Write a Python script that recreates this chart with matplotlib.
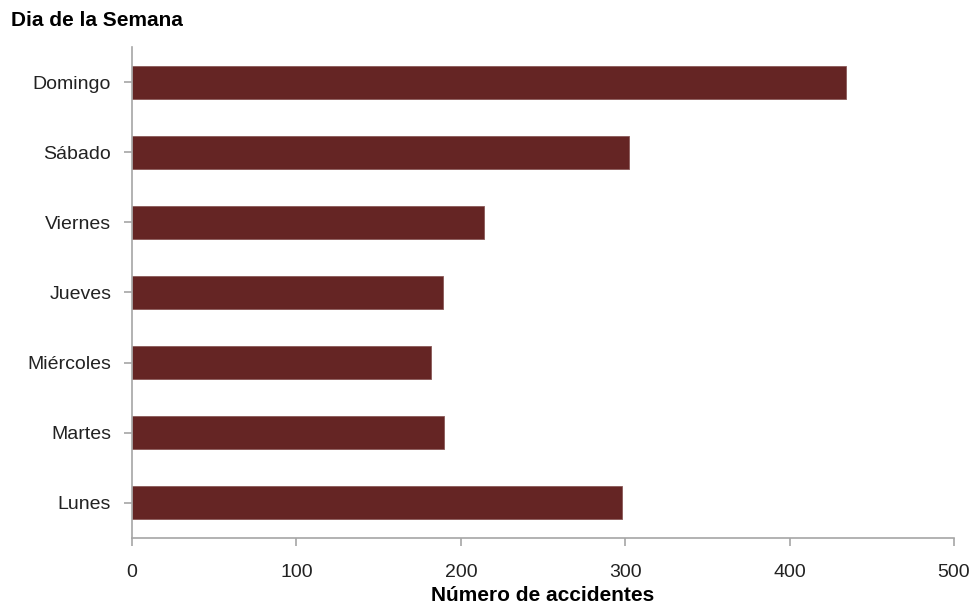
import numpy as np
import matplotlib.pyplot as plt

dias = ["Lunes", "Martes", "Miércoles", "Jueves", "Viernes", "Sábado", "Domingo"]
accidentes = [298, 190, 182, 189, 214, 302, 434]
ticks_x = [0, 100, 200, 300, 400, 500]

plt.rcParams["font.family"] = ["Liberation Sans", "DejaVu Sans"]

fig = plt.figure(figsize=(9.73, 6.14), dpi=100)
ax = fig.add_axes([0.1357, 0.1238, 0.8448, 0.7997])

pos = np.arange(len(dias))
ax.barh(pos, accidentes, height=0.47, color="#652524", edgecolor="#8a5a58", linewidth=0.6)

ax.set_xlim(0, 500)
ax.set_ylim(-0.5, len(dias) - 0.5)
ax.set_xticks(ticks_x)
ax.set_xticklabels([str(t) for t in ticks_x], fontsize=14)
ax.set_yticks(pos)
ax.set_yticklabels(dias, fontsize=14)

for lado in ["top", "right"]:
    ax.spines[lado].set_visible(False)
for lado in ["left", "bottom"]:
    ax.spines[lado].set_color("#a6a6a6")
    ax.spines[lado].set_linewidth(1.2)

ax.tick_params(axis="both", colors="#a6a6a6", labelcolor="#222222", length=6, width=1.2)
ax.tick_params(axis="x", pad=13)
ax.tick_params(axis="y", pad=9)

ax.set_xlabel("Número de accidentes", fontsize=15, fontweight="bold", labelpad=3)
fig.text(0.011, 0.967, "Dia de la Semana", fontsize=15, fontweight="bold", va="center", ha="left")

plt.savefig("out.png", dpi=100)
plt.close()
